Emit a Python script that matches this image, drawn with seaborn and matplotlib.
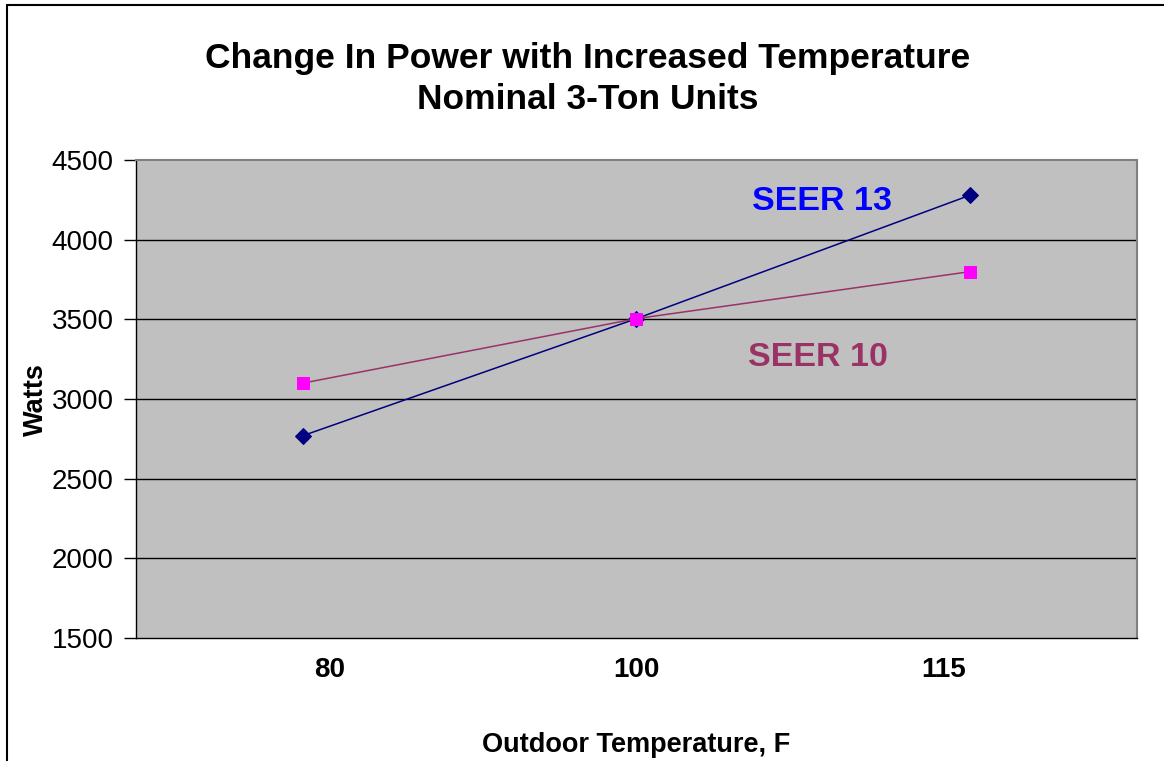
import numpy as np
import pandas as pd
import matplotlib
matplotlib.use("Agg")
import matplotlib.pyplot as plt
import seaborn as sns
from matplotlib.lines import Line2D

# data
temps = ["80", "100", "115"]
seer13 = [2770, 3505, 4280]
seer10 = [3100, 3505, 3800]
yticks = [1500, 2000, 2500, 3000, 3500, 4000, 4500]

sns.set_style("white")
plt.rcParams['font.family'] = ['Liberation Sans', 'DejaVu Sans']
plt.rcParams['text.color'] = 'black'
plt.rcParams['axes.labelcolor'] = 'black'
plt.rcParams['xtick.color'] = 'black'
plt.rcParams['ytick.color'] = 'black'

df = pd.DataFrame({
    'pos': list(range(len(temps))) * 2,
    'Watts': seer13 + seer10,
    'Series': ['SEER 13'] * len(temps) + ['SEER 10'] * len(temps),
})

fig = plt.figure(figsize=(11.64, 7.61), dpi=100)
ax = fig.add_axes([0.1168, 0.1616, 0.86, 0.628])
ax.set_facecolor('#C0C0C0')

sns.lineplot(data=df[df['Series'] == 'SEER 13'], x='pos', y='Watts', ax=ax,
             color='#000080', lw=1.1, marker='D', markersize=8,
             markerfacecolor='#000080', markeredgecolor='#000080', zorder=3)
sns.lineplot(data=df[df['Series'] == 'SEER 10'], x='pos', y='Watts', ax=ax,
             color='#993366', lw=1.1, marker='s', markersize=9,
             markerfacecolor='#FF00FF', markeredgecolor='#FF00FF', zorder=4)

ax.set_xlim(-0.5, len(temps) - 0.5)
ax.set_ylim(1500, 4500)
ax.set_yticks(yticks)
ax.set_yticklabels([str(v) for v in yticks], fontsize=20)
# category labels sit a bit off the point centres in the original
ax.set_xticks([0.08, 1.0, 1.92])
ax.set_xticklabels(temps, fontsize=20, fontweight='bold')
ax.tick_params(axis='x', length=0, pad=14)
ax.tick_params(axis='y', length=9, width=1, direction='out', left=True, pad=7)

ax.grid(False)
for v in yticks[1:-1]:
    ax.axhline(v, color='black', lw=1, zorder=1)

for side in ['top', 'right']:
    ax.spines[side].set_color('#808080')
    ax.spines[side].set_linewidth(1.5)
for side in ['left', 'bottom']:
    ax.spines[side].set_color('black')
    ax.spines[side].set_linewidth(1)

ax.set_xlabel('Outdoor Temperature, F', fontsize=19.5, fontweight='bold', labelpad=35)
ax.set_ylabel('Watts', fontsize=19.5, fontweight='bold', labelpad=2)

fig.suptitle('Change In Power with Increased Temperature\nNominal 3-Ton Units',
             x=0.505, y=0.945, fontsize=25.5, fontweight='bold', linespacing=1.3)

ax.text(1.556, 4240, 'SEER 13', color='#0000FF', fontsize=24.5, fontweight='bold',
        ha='center', va='center')
ax.text(1.545, 3260, 'SEER 10', color='#993366', fontsize=24.5, fontweight='bold',
        ha='center', va='center')

# outer chart frame (cut off at right and bottom)
fig.add_artist(Line2D([7 / 1164, 1], [1 - 5 / 761, 1 - 5 / 761], color='black', lw=1.5))
fig.add_artist(Line2D([7 / 1164, 7 / 1164], [0, 1 - 5 / 761], color='black', lw=1.5))

ax.legend_ = None
fig.savefig('out.png', dpi=100)
